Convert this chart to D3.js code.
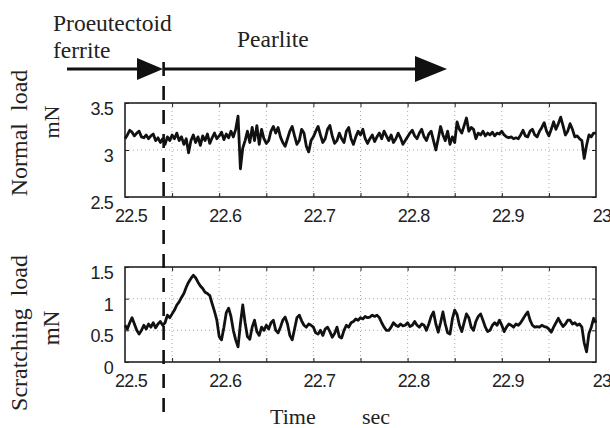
<!DOCTYPE html>
<html>
<head>
<meta charset="utf-8">
<script src="https://cdn.jsdelivr.net/npm/d3@7"></script>
<style>
	body { margin: 0; background: #fff; }
	svg { display: block; }
	.tick text { font-family: 'Liberation Sans', Arial, sans-serif; }
	.serif { font-family: 'Liberation Serif', 'Times New Roman', serif; }
</style>
</head>
<body>
<div id="chart"></div>
<script>
var w = 610,
	h = 428,
	t0 = 22.5,
	dt = 0.0025;

// sampled every 2.5 ms from 22.5 s to 23 s
var normalLoad = [
	3.12, 3.16, 3.21, 3.19, 3.15, 3.18, 3.20, 3.14, 3.13, 3.16, 3.12, 3.15, 3.17, 3.10, 3.13, 3.08, 3.12, 3.06, 3.14, 3.10,
	3.16, 3.12, 3.18, 3.10, 3.14, 3.06, 3.12, 2.97, 3.10, 3.16, 3.08, 3.14, 3.05, 3.15, 3.10, 3.17, 3.07, 3.13, 3.18, 3.12,
	3.15, 3.19, 3.11, 3.17, 3.13, 3.20, 3.14, 3.22, 3.36, 2.80, 3.02, 3.10, 3.20, 3.08, 3.24, 3.10, 3.26, 3.06, 3.22, 3.12,
	3.07, 3.10, 3.20, 3.25, 3.18, 3.24, 3.14, 3.08, 3.04, 3.12, 3.20, 3.25, 3.15, 3.06, 3.10, 3.22, 3.18, 3.04, 2.98, 3.10,
	3.14, 3.20, 3.25, 3.16, 3.08, 3.12, 3.22, 3.26, 3.15, 3.07, 3.10, 3.18, 3.12, 3.08, 3.20, 3.24, 3.12, 3.06, 3.14, 3.20,
	3.16, 3.22, 3.12, 3.07, 3.12, 3.16, 3.09, 3.14, 3.18, 3.12, 3.20, 3.15, 3.10, 3.16, 3.08, 3.12, 3.18, 3.13, 3.06, 3.10,
	3.14, 3.18, 3.21, 3.15, 3.12, 3.18, 3.22, 3.14, 3.10, 3.17, 3.20, 3.10, 3.00, 3.12, 3.25, 3.16, 3.10, 3.20, 3.06, 3.14,
	3.08, 3.30, 3.22, 3.18, 3.26, 3.34, 3.20, 3.24, 3.22, 3.12, 3.18, 3.16, 3.20, 3.15, 3.18, 3.16, 3.19, 3.15, 3.18, 3.17,
	3.20, 3.16, 3.14, 3.13, 3.14, 3.12, 3.13, 3.12, 3.16, 3.21, 3.15, 3.14, 3.20, 3.22, 3.16, 3.14, 3.20, 3.24, 3.29, 3.20,
	3.15, 3.22, 3.30, 3.22, 3.28, 3.35, 3.26, 3.16, 3.20, 3.28, 3.22, 3.14, 3.15, 3.12, 3.10, 2.91, 3.05, 3.16, 3.14, 3.18, 3.18
];

var scratchLoad = [
	0.58, 0.52, 0.62, 0.70, 0.60, 0.50, 0.44, 0.50, 0.58, 0.52, 0.60, 0.55, 0.62, 0.54, 0.60, 0.64, 0.58, 0.62, 0.74, 0.70,
	0.76, 0.82, 0.90, 0.95, 1.02, 1.08, 1.18, 1.26, 1.32, 1.37, 1.33, 1.26, 1.20, 1.16, 1.10, 1.08, 1.05, 0.92, 0.80, 0.66,
	0.40, 0.35, 0.55, 0.78, 0.85, 0.72, 0.50, 0.35, 0.24, 0.60, 0.90, 0.62, 0.40, 0.36, 0.55, 0.66, 0.48, 0.42, 0.55, 0.50,
	0.58, 0.52, 0.62, 0.66, 0.50, 0.46, 0.55, 0.66, 0.71, 0.60, 0.42, 0.35, 0.52, 0.70, 0.74, 0.65, 0.58, 0.55, 0.60, 0.58,
	0.55, 0.46, 0.44, 0.50, 0.42, 0.52, 0.55, 0.48, 0.39, 0.45, 0.55, 0.40, 0.38, 0.50, 0.58, 0.55, 0.62, 0.64, 0.68, 0.66,
	0.70, 0.68, 0.72, 0.70, 0.71, 0.74, 0.72, 0.74, 0.70, 0.62, 0.55, 0.50, 0.50, 0.55, 0.62, 0.58, 0.56, 0.60, 0.57, 0.58,
	0.62, 0.56, 0.58, 0.64, 0.58, 0.55, 0.60, 0.58, 0.50, 0.60, 0.72, 0.79, 0.60, 0.47, 0.62, 0.79, 0.60, 0.46, 0.44, 0.68,
	0.82, 0.75, 0.58, 0.48, 0.62, 0.76, 0.70, 0.55, 0.50, 0.64, 0.72, 0.76, 0.66, 0.55, 0.48, 0.50, 0.58, 0.62, 0.58, 0.66,
	0.58, 0.48, 0.55, 0.60, 0.58, 0.55, 0.60, 0.58, 0.62, 0.68, 0.74, 0.79, 0.66, 0.58, 0.55, 0.56, 0.55, 0.58, 0.56, 0.55,
	0.52, 0.47, 0.55, 0.62, 0.69, 0.62, 0.56, 0.60, 0.66, 0.66, 0.60, 0.62, 0.58, 0.60, 0.55, 0.30, 0.16, 0.45, 0.55, 0.69, 0.62
];

var xTicks = [22.5, 22.6, 22.7, 22.8, 22.9, 23],
	xGrid = [22.55, 22.6, 22.65, 22.7, 22.75, 22.8, 22.85, 22.9, 22.95],
	normalTicks = [2.5, 3, 3.5],
	normalGrid = [3],
	scratchTicks = [0, 0.5, 1, 1.5],
	scratchGrid = [0.5, 1],
	boundary = 22.541;

var svg = d3.select('#chart').append('svg')
	.attr('width', w)
	.attr('height', h);

var x = d3.scaleLinear().domain([22.5, 23]).range([125, 596]);

function panel(data, top, bottom, yDomain, yTicks, yGrid) {
	var y = d3.scaleLinear().domain(yDomain).range([bottom, top]);
	var g = svg.append('g');

	g.selectAll('line.vg')
		.data(xGrid)
		.enter().append('line')
		.attr('class', 'vg')
		.attr('x1', x).attr('x2', x)
		.attr('y1', top).attr('y2', bottom)
		.style('stroke', '#aaa')
		.style('stroke-width', 1)
		.style('stroke-dasharray', '1,3');

	g.selectAll('line.hg')
		.data(yGrid)
		.enter().append('line')
		.attr('class', 'hg')
		.attr('x1', 125).attr('x2', 596)
		.attr('y1', y).attr('y2', y)
		.style('stroke', '#aaa')
		.style('stroke-width', 1)
		.style('stroke-dasharray', '1,3');

	// axes, ticks inside like the original plot
	var xb = g.append('g')
		.attr('transform', 'translate(0,' + bottom + ')')
		.call(d3.axisBottom(x).tickValues(xGrid).tickSize(-4).tickFormat(''));
	var xt = g.append('g')
		.attr('transform', 'translate(0,' + top + ')')
		.call(d3.axisTop(x).tickValues(xGrid).tickSize(-4).tickFormat(''));
	var yl = g.append('g')
		.attr('transform', 'translate(125,0)')
		.call(d3.axisLeft(y).tickValues(yTicks).tickSize(-4).tickFormat(''));
	var yr = g.append('g')
		.attr('transform', 'translate(596,0)')
		.call(d3.axisRight(y).tickValues(yTicks).tickSize(-4).tickFormat(''));
	[xb, xt, yl, yr].forEach(function(a) {
		a.selectAll('path').remove();
		a.selectAll('line').style('stroke', '#222');
	});

	g.append('rect')
		.attr('x', 125).attr('y', top)
		.attr('width', 596 - 125).attr('height', bottom - top)
		.style('fill', 'none')
		.style('stroke', '#222')
		.style('stroke-width', 1.6);

	var line = d3.line()
		.x(function(d, i) { return x(t0 + i * dt); })
		.y(function(d) { return y(d); });

	g.append('path')
		.datum(data)
		.attr('d', line)
		.style('fill', 'none')
		.style('stroke', '#111')
		.style('stroke-width', 2.8)
		.style('stroke-linejoin', 'round');

	var lab = g.append('g')
		.attr('class', 'tick')
		.style('font-size', '18px')
		.style('fill', '#222');

	lab.selectAll('text.xl')
		.data(xTicks)
		.enter().append('text')
		.attr('class', 'xl')
		.attr('x', function(d) { return x(d) + 6; })
		.attr('y', bottom + 25)
		.attr('text-anchor', 'middle')
		.style('letter-spacing', '-0.8px')
		.text(function(d) { return d; });

	lab.selectAll('text.yl')
		.data(yTicks)
		.enter().append('text')
		.attr('class', 'yl')
		.attr('x', 113)
		.attr('y', function(d) { return y(d) + 12; })
		.attr('text-anchor', 'end')
		.style('letter-spacing', '-0.8px')
		.text(function(d) { return d; });

	return g;
}

panel(normalLoad, 103, 197, [2.5, 3.5], normalTicks, normalGrid);
panel(scratchLoad, 267, 362, [0, 1.5], scratchTicks, scratchGrid);

// axis titles
function vtext(txt, cx, cy, size) {
	svg.append('text')
		.attr('class', 'serif')
		.attr('transform', 'translate(' + cx + ',' + cy + ') rotate(-90)')
		.attr('text-anchor', 'middle')
		.attr('dy', '0.35em')
		.style('font-size', size + 'px')
		.style('fill', '#222')
		.style('white-space', 'pre')
		.text(txt);
}
vtext('Normal  load', 19, 133, 24);
vtext('mN', 51, 122, 22);
vtext('Scratching  load', 19, 333, 24);
vtext('mN', 51, 328, 23);

function htext(txt, tx, ty, size) {
	svg.append('text')
		.attr('class', 'serif')
		.attr('x', tx).attr('y', ty)
		.style('font-size', size + 'px')
		.style('fill', '#222')
		.text(txt);
}
htext('Time', 270, 424, 22);
htext('sec', 362, 424, 22);
htext('Proeutectoid', 53, 31, 23.5);
htext('ferrite', 53, 58, 23.5);
htext('Pearlite', 237, 47, 23.5);

// phase arrows
var arrows = [[67, 163], [163, 447]];
svg.selectAll('line.arr')
	.data(arrows)
	.enter().append('line')
	.attr('class', 'arr')
	.attr('x1', function(d) { return d[0]; })
	.attr('x2', function(d) { return d[1] - 20; })
	.attr('y1', 69).attr('y2', 69)
	.style('stroke', '#111')
	.style('stroke-width', 3);
svg.selectAll('path.head')
	.data(arrows)
	.enter().append('path')
	.attr('class', 'head')
	.attr('d', function(d, i) {
		var len = i ? 32 : 26, hw = i ? 13 : 11;
		return 'M' + d[1] + ',69L' + (d[1] - len) + ',' + (69 - hw) + 'L' + (d[1] - len) + ',' + (69 + hw) + 'Z';
	})
	.style('fill', '#111');

// boundary between the two phases
svg.append('line')
	.attr('x1', x(boundary)).attr('x2', x(boundary))
	.attr('y1', 62).attr('y2', 412)
	.style('stroke', '#111')
	.style('stroke-width', 2.6)
	.style('stroke-dasharray', '14,10');
</script>
</body>
</html>
